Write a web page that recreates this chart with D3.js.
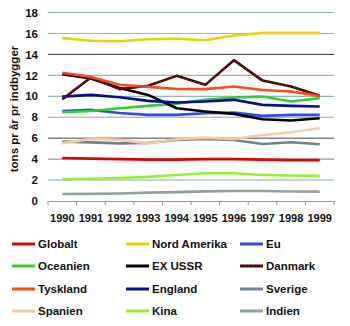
<!DOCTYPE html>
<html><head><meta charset="utf-8">
<script src="https://cdn.jsdelivr.net/npm/d3@7"></script>
<style>body{margin:0;background:#fff}svg{display:block}text{font-family:"Liberation Sans",Arial,sans-serif;font-weight:bold;fill:#111}</style>
</head><body><svg id="c" width="350" height="326"></svg>
<script>
const years = ["1990","1991","1992","1993","1994","1995","1996","1997","1998","1999"];
const yTicks = [0,2,4,6,8,10,12,14,16,18];
const seriesNames = ["Globalt","Nord Amerika","Eu","Oceanien","EX USSR","Danmark","Tyskland","England","Sverige","Spanien","Kina","Indien"];
const globalt     = [4.1,4.05,4.0,3.95,3.95,4.0,4.0,3.95,3.9,3.9];
const nordAmerika = [15.55,15.3,15.25,15.45,15.5,15.35,15.8,16.05,16.05,16.05];
const eu          = [8.6,8.7,8.4,8.22,8.22,8.38,8.44,8.13,8.22,8.22];
const oceanien    = [8.48,8.6,8.86,9.08,9.3,9.66,9.88,9.97,9.5,9.82];
const exUSSR      = [12.1,11.7,10.8,10.13,8.86,8.54,8.32,7.81,7.68,7.9];
const danmark     = [9.72,11.8,10.68,11.0,11.95,11.09,13.45,11.5,10.93,10.04];
const tyskland    = [12.25,11.85,11.1,10.9,10.7,10.68,10.93,10.6,10.45,10.04];
const england     = [9.97,10.13,9.91,9.56,9.4,9.5,9.66,9.18,9.08,9.02];
const sverige     = [5.67,5.6,5.5,5.55,5.83,5.93,5.83,5.45,5.61,5.42];
const spanien     = [5.5,5.93,5.85,5.5,5.9,6.05,5.93,6.31,6.57,6.95];
const kina        = [2.1,2.13,2.2,2.3,2.49,2.65,2.65,2.49,2.43,2.4];
const indien      = [0.67,0.68,0.72,0.8,0.85,0.92,0.96,0.95,0.9,0.9];
const seriesValues = [globalt,nordAmerika,eu,oceanien,exUSSR,danmark,tyskland,england,sverige,spanien,kina,indien];
const colors = ["#e00000","#f5cc00","#2a4fe0","#33cc33","#000000","#3a0808","#ff4a1a","#0a0a9a","#6f8292","#f8c8a0","#99ee33","#90a0a0"];
const gridColors = {18:"#86b8a8",16:"#aaaaaa",14:"#333333",12:"#b09090",10:"#6fa898",8:"#a0a0a0",6:"#444444",4:"#a07070",2:"#80b0a8"};

const svg = d3.select("#c");
const x = d3.scaleBand().domain(years).range([48,334]);
const y = d3.scaleLinear().domain([0,18]).range([201,12.5]);

// gridlines
svg.append("g").selectAll("line").data(yTicks.filter(d=>d>0)).join("line")
  .attr("x1",48).attr("x2",334).attr("y1",d=>y(d)).attr("y2",d=>y(d))
  .attr("stroke",d=>gridColors[d]).attr("stroke-width",1);

// y axis labels
const ya = svg.append("g").attr("transform","translate(40,0)")
  .call(d3.axisLeft(y).tickValues(yTicks).tickSize(0).tickPadding(2));
ya.select(".domain").remove();
ya.selectAll("text").style("font-size","11.5px").attr("font-family",null).attr("fill","#111");

// x axis
const xa = svg.append("g").attr("transform","translate(0,201)")
  .call(d3.axisBottom(x).tickSize(0).tickPadding(13));
xa.select(".domain").attr("stroke","#999");
xa.selectAll("text").style("font-size","11px").attr("font-family",null).attr("fill","#111");
const bounds = years.map(d=>x(d)).concat([x.range()[1]]);
xa.selectAll("line.tk").data(bounds).join("line").attr("class","tk")
  .attr("x1",d=>d).attr("x2",d=>d).attr("y1",0).attr("y2",4).attr("stroke","#999");

// y label
svg.append("text").attr("transform","translate(18,109) rotate(-90)")
  .attr("text-anchor","middle").style("font-size","11.5px").text("tons pr år pr indbygger");

// lines
const line = d3.line().x((d,i)=>x(years[i])+x.bandwidth()/2).y(d=>y(d));
svg.append("g").selectAll("path").data(seriesValues).join("path")
  .attr("d",line).attr("fill","none")
  .attr("stroke",(d,i)=>colors[i]).attr("stroke-width",2.6)
  .attr("stroke-linejoin","round");
// red core on Danmark
svg.append("path").attr("d",line(danmark)).attr("fill","none")
  .attr("stroke","#b02020").attr("stroke-width",0.8).attr("stroke-dasharray","2,2");

// legend
const colX = [12,126,240];
const rowY = [244,266,289,311];
const lg = svg.append("g").selectAll("g").data(seriesNames).join("g")
  .attr("transform",(d,i)=>`translate(${colX[i%3]},${rowY[Math.floor(i/3)]})`);
lg.append("line").attr("x1",0).attr("x2",23).attr("y1",0).attr("y2",0)
  .attr("stroke",(d,i)=>colors[i]).attr("stroke-width",3);
lg.filter(d=>d==="Danmark").append("line").attr("x1",0).attr("x2",23)
  .attr("stroke","#b02020").attr("stroke-width",0.8).attr("stroke-dasharray","2,2");
lg.append("text").attr("x",26).attr("y",4).style("font-size","11.5px").text(d=>d);
</script></body></html>
